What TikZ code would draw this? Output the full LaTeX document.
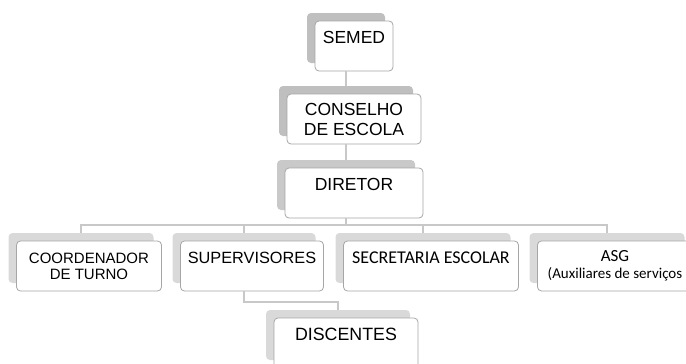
\documentclass[tikz,border=0pt]{standalone}
\usepackage{fontspec}
\setmainfont{Liberation Sans}
\newfontfamily\carlito{Carlito}
\definecolor{shadeA}{HTML}{BFBFBF}
\definecolor{shadeB}{HTML}{C9C9C9}
\definecolor{shadeC}{HTML}{D9D9D9}
\definecolor{boxline}{HTML}{A6A6A6}
\definecolor{linkgray}{HTML}{C8C8C8}
\newcommand\pxfont[2]{\fontsize{#1}{#2}\selectfont}
\begin{document}
\begin{tikzpicture}[x=1pt, y=-1pt,
  back/.style={fill=#1, rounded corners=4pt, minimum height=50pt, inner sep=0pt},
  front/.style={draw=boxline, line width=.8pt, fill=white, rounded corners=4pt,
    minimum height=50pt, xshift=8pt, yshift=-8pt, align=center},
  topline/.style={inner ysep=0pt, text height=22pt, text depth=28pt},
  link/.style={draw=linkgray, line width=1.5pt}]
  \useasboundingbox (0,0) rectangle (686,364);
  % top of the chart
  \node[back=shadeA, minimum width=78pt] (semedB) at (346,38) {};
  \node[front, minimum width=78pt, topline, font=\pxfont{17.5}{20}] (semed) at (semedB) {SEMED};
  \node[back=shadeA, minimum width=134pt] (conselhoB) at (346,111) {};
  \node[front, minimum width=134pt, font=\pxfont{17.5}{20}] (conselho) at (conselhoB) {CONSELHO\\DE ESCOLA};
  \node[back=shadeB, minimum width=138pt] (diretorB) at (346,185) {};
  \node[front, minimum width=138pt, topline, font=\pxfont{17.5}{20}] (diretor) at (diretorB) {DIRETOR};
  % second row
  \node[back=shadeC, minimum width=145pt] (coordB) at (81,258) {};
  \node[front, minimum width=145pt, font=\pxfont{15}{16}] (coord) at (coordB) {COORDENADOR\\DE TURNO};
  \node[back=shadeC, minimum width=143pt] (supB) at (244,258) {};
  \node[front, minimum width=143pt, topline, font=\pxfont{16.3}{19}] (sup) at (supB) {SUPERVISORES};
  \node[back=shadeC, minimum width=175pt] (secB) at (423,258) {};
  \node[front, minimum width=175pt, topline, font=\carlito\pxfont{18}{20}] (sec) at (secB) {SECRETARIA ESCOLAR};
  \node[back=shadeC, minimum width=155pt] (asgB) at (607,258) {};
  \node[front, minimum width=155pt, font=\carlito\pxfont{17}{17}] (asg) at (asgB) {ASG\\{\pxfont{15}{17}(Auxiliares de serviços}};
  % last box
  \node[back=shadeC, minimum width=144pt] (discB) at (338,335) {};
  \node[front, minimum width=144pt, topline, font=\pxfont{17.8}{20}] (disc) at (discB) {DISCENTES};
  \coordinate (hub) at (346,225);
  \coordinate (fork) at (244,302);
  \draw[link] (semedB |- semed.south) -- (conselhoB.north);
  \draw[link] (conselhoB |- conselho.south) -- (diretorB.north);
  \draw[link] (diretorB |- diretor.south) -- (hub);
  \draw[link] (coordB.north) |- (hub) -| (asgB.north);
  \draw[link] (supB.north) -- (supB |- hub);
  \draw[link] (secB.north) -- (secB |- hub);
  \draw[link] (supB |- sup.south) -- (fork) -| (discB.north);
\end{tikzpicture}
\end{document}
